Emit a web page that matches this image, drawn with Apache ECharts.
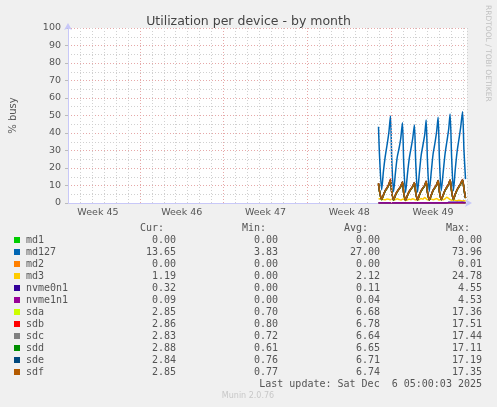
<!DOCTYPE html>
<html><head><meta charset="utf-8">
<script src="https://cdn.jsdelivr.net/npm/echarts@6/dist/echarts.min.js"></script>
<style>html,body{margin:0;padding:0;background:#f0f0f0;}#c{width:497px;height:407px;}</style>
</head><body><div id="c"></div>
<script>
// time in days since Mon Nov 3 2025 00:00 (left edge of plot)
const days = [
25.94, 26.02, 26.2, 26.35, 26.5, 26.65, 26.8, 26.94,
27.05, 27.2, 27.35, 27.5, 27.65, 27.8, 27.94,
28.05, 28.2, 28.35, 28.5, 28.65, 28.8, 28.94,
29.05, 29.2, 29.35, 29.5, 29.65, 29.8, 29.92,
30.03, 30.18, 30.35, 30.5, 30.65, 30.8, 30.92,
31.03, 31.18, 31.35, 31.5, 31.65, 31.8, 31.92,
32.05, 32.2, 32.35, 32.5, 32.65, 32.8, 32.96,
33.08, 33.21];
const md1 = [
0,0,0,0,0,0,0,0, 0,0,0,0,0,0,0, 0,0,0,0,0,0,0, 0,0,0,0,0,0,0,
0,0,0,0,0,0,0, 0,0,0,0,0,0,0, 0,0,0,0,0,0,0, 0,0];
const md127 = [
43.6, 28.0, 7.5, 18.0, 26.5, 33.0, 40.0, 49.7,
24.0, 6.5, 17.0, 26.0, 31.0, 37.0, 45.9,
22.0, 6.0, 16.0, 25.0, 31.0, 37.0, 44.6,
23.0, 6.2, 17.0, 27.0, 33.0, 39.0, 47.4,
24.0, 6.5, 18.0, 28.0, 34.0, 41.0, 49.0,
25.0, 7.0, 18.0, 28.0, 35.0, 42.0, 50.9,
26.0, 7.0, 19.0, 29.0, 36.0, 43.0, 52.2,
30.0, 13.65];
const md2 = [
0,0,0,0,0,0,0,0, 0,0,0,0,0,0,0, 0,0,0,0,0,0,0, 0,0,0,0,0,0,0,
0,0,0,0,0,0,0, 0,0,0,0,0,0,0, 0,0,0,0,0,0,0, 0,0];
const md3 = [
2.6, 2.4, 2.2, 2.0, 1.8, 2.3, 2.1, 1.9,
2.2, 1.6, 1.9, 2.4, 2.0, 1.7, 2.1,
2.3, 1.5, 1.8, 2.2, 1.9, 2.5, 2.0,
1.7, 2.1, 1.9, 2.6, 2.2, 3.2, 2.4,
1.8, 2.0, 2.3, 1.9, 2.1, 2.6, 2.0,
1.7, 2.2, 1.8, 2.4, 3.3, 2.6, 2.0,
1.6, 1.9, 1.5, 1.3, 1.6, 1.4, 1.2,
1.3, 1.19];
const nvme0n1 = [
0.02,0.02,0.02,0.02,0.02,0.02,0.02,0.02,
0.02,0.02,0.02,0.02,0.02,0.02,0.02,
0.02,0.02,0.02,0.02,0.02,0.02,0.02,
0.02,0.02,0.02,0.02,0.02,0.02,0.02,
0.02,0.02,0.02,0.02,0.02,0.02,0.02,
0.02,0.02,0.02,0.02,0.02,0.4,0.45,
0.4,0.42,0.38,0.4,0.45,0.4,0.38,
0.35,0.32];
const nvme1n1 = [
0.04,0.04,0.04,0.04,0.04,0.04,0.04,0.04,
0.04,0.04,0.04,0.04,0.04,0.04,0.04,
0.04,0.04,0.04,0.04,0.04,0.04,0.04,
0.04,0.04,0.04,0.04,0.04,0.04,0.04,
0.04,0.04,0.04,0.04,0.04,0.04,0.04,
0.04,0.04,0.04,0.04,0.04,0.04,0.04,
0.04,0.04,0.04,0.04,0.04,0.04,0.04,
0.05,0.09];
const sda = [
11.0, 6.9, 1.9, 4.4, 6.9, 8.4, 10.4, 13.0,
5.9, 1.7, 4.4, 6.4, 7.9, 9.4, 11.9,
5.4, 1.5, 4.1, 6.4, 7.9, 9.4, 11.5,
5.9, 1.6, 4.4, 6.9, 8.4, 9.9, 12.3,
6.1, 1.7, 4.5, 7.1, 8.7, 10.4, 12.7,
6.4, 1.8, 4.6, 7.2, 8.9, 10.7, 13.0,
6.7, 1.9, 4.9, 7.4, 9.2, 10.9, 13.2,
7.9, 2.85];
const sdb = [
11.4, 7.1, 2.1, 4.6, 7.1, 8.7, 10.7, 13.7,
6.1, 1.9, 4.6, 6.6, 8.1, 9.6, 12.1,
5.6, 1.7, 4.3, 6.6, 8.1, 9.6, 11.7,
6.1, 1.8, 4.6, 7.1, 8.6, 10.1, 12.5,
6.3, 1.9, 4.7, 7.3, 8.9, 10.6, 12.9,
6.6, 2.0, 4.8, 7.4, 9.1, 10.9, 13.2,
6.9, 2.1, 5.1, 7.6, 9.4, 11.1, 13.4,
8.1, 2.86];
const sdc = [
11.1, 6.9, 2.0, 4.5, 6.9, 8.5, 10.5, 13.1,
5.9, 1.8, 4.4, 6.5, 8.0, 9.5, 11.9,
5.5, 1.6, 4.2, 6.4, 8.0, 9.4, 11.6,
5.9, 1.7, 4.5, 6.9, 8.5, 10.0, 12.3,
6.2, 1.8, 4.5, 7.2, 8.8, 10.5, 12.8,
6.4, 1.9, 4.7, 7.3, 9.0, 10.8, 13.0,
6.8, 2.0, 4.9, 7.5, 9.3, 11.0, 13.2,
7.9, 2.83];
const sdd = [
11.0, 6.8, 1.8, 4.4, 6.8, 8.4, 10.3, 12.9,
5.8, 1.6, 4.3, 6.4, 7.9, 9.3, 11.8,
5.4, 1.5, 4.1, 6.3, 7.8, 9.3, 11.4,
5.8, 1.6, 4.3, 6.8, 8.3, 9.8, 12.1,
6.0, 1.7, 4.4, 7.0, 8.6, 10.3, 12.6,
6.3, 1.8, 4.6, 7.1, 8.8, 10.6, 12.9,
6.6, 1.9, 4.8, 7.3, 9.1, 10.8, 13.1,
7.8, 2.88];
const sde = [
11.1, 7.0, 2.0, 4.5, 7.0, 8.5, 10.5, 13.1,
6.0, 1.8, 4.5, 6.5, 8.0, 9.5, 12.0,
5.5, 1.6, 4.2, 6.5, 8.0, 9.5, 11.6,
6.0, 1.7, 4.5, 7.0, 8.5, 10.0, 12.4,
6.2, 1.8, 4.6, 7.2, 8.8, 10.5, 12.8,
6.5, 1.9, 4.7, 7.3, 9.0, 10.8, 13.1,
6.8, 2.0, 5.0, 7.5, 9.3, 11.0, 13.3,
8.0, 2.84];
const sdf = [
11.2, 7.0, 2.0, 4.5, 7.0, 8.5, 10.5, 13.2,
6.0, 1.8, 4.5, 6.5, 8.0, 9.5, 12.0,
5.5, 1.6, 4.2, 6.5, 8.0, 9.5, 11.6,
6.0, 1.7, 4.5, 7.0, 8.5, 10.0, 12.4,
6.2, 1.8, 4.6, 7.2, 8.8, 10.5, 12.8,
6.5, 1.9, 4.7, 7.3, 9.0, 10.8, 13.1,
6.8, 2.0, 5.0, 7.5, 9.3, 11.0, 13.3,
8.0, 2.85];

const seriesNames = ['md1','md127','md2','md3','nvme0n1','nvme1n1','sda','sdb','sdc','sdd','sde','sdf'];
const seriesValues = [md1, md127, md2, md3, nvme0n1, nvme1n1, sda, sdb, sdc, sdd, sde, sdf];
const seriesColors = ['#00CC00','#0066B3','#FF8000','#FFCC00','#330099','#990099','#CCFF00','#FF0000','#808080','#008F00','#00487D','#B35A00'];

const curVals = ['0.00','13.65','0.00','1.19','0.32','0.09','2.85','2.86','2.83','2.88','2.84','2.85'];
const minVals = ['0.00','3.83','0.00','0.00','0.00','0.00','0.70','0.80','0.72','0.61','0.76','0.77'];
const avgVals = ['0.00','27.00','0.00','2.12','0.11','0.04','6.68','6.78','6.64','6.65','6.71','6.74'];
const maxVals = ['0.00','73.96','0.01','24.78','4.55','4.53','17.36','17.51','17.44','17.11','17.19','17.35'];

const weekCenters = [2.5, 9.5, 16.5, 23.5, 30.5];
const weekLabels = ['Week 45','Week 46','Week 47','Week 48','Week 49'];
const weekBounds = [6, 13, 20, 27];
const xMax = 33.333;
const yTicks = [0, 100, 10];

const titleText = 'Utilization per device - by month';
const yName = '% busy';
const sideText = 'RRDTOOL / TOBI OETIKER';
const lastUpdate = 'Last update: Sat Dec  6 05:00:03 2025';
const footer = 'Munin 2.0.76';
const headers = ['Cur:','Min:','Avg:','Max:'];

const MONO = '10px "DejaVu Sans Mono"';
const TXT = '#555';
const graphics = [];
const rowY0 = 240, rowH = 12;
const colRight = [176, 278, 380, 482];
headers.forEach((h, j) => graphics.push({type:'text', style:{text:h, x:colRight[j]-12, y:rowY0-rowH, align:'right', verticalAlign:'middle', font:MONO, fill:TXT}}));
seriesNames.forEach((n, i) => {
  const y = rowY0 + i*rowH;
  graphics.push({type:'rect', shape:{x:14, y:y-3, width:6, height:6}, style:{fill:seriesColors[i]}});
  graphics.push({type:'text', style:{text:n, x:26, y:y, align:'left', verticalAlign:'middle', font:MONO, fill:TXT}});
  [curVals, minVals, avgVals, maxVals].forEach((arr, j) => graphics.push({type:'text', style:{text:arr[i], x:colRight[j], y:y, align:'right', verticalAlign:'middle', font:MONO, fill:TXT}}));
});
graphics.push({type:'text', style:{text:lastUpdate, x:482, y:rowY0 + 12*rowH, align:'right', verticalAlign:'middle', font:MONO, fill:TXT}});
graphics.push({type:'text', style:{text:footer, x:248, y:396, align:'center', verticalAlign:'middle', font:'8px "DejaVu Sans"', fill:'#c8c8c8'}});
graphics.push({type:'text', x:488, y:5, rotation:-Math.PI/2, style:{text:sideText, x:0, y:0, align:'left', verticalAlign:'middle', font:'7.5px "DejaVu Sans"', fill:'#c0c0c0'}});

const dataSeries = seriesNames.map((n, i) => ({
  name:n, type:'line', xAxisIndex:0, yAxisIndex:0, showSymbol:false, symbol:'none',
  smooth:0.25,
  data: days.map((d, k) => [d, seriesValues[i][k]]),
  lineStyle:{color:seriesColors[i], width:1.5}, itemStyle:{color:seriesColors[i]},
  z:3, animation:false, silent:true
}));

const chart = echarts.init(document.getElementById('c'), null, {renderer:'canvas'});
chart.setOption({
  backgroundColor:'#f0f0f0',
  animation:false,
  title:{text:titleText, left:'center', top:10, textStyle:{fontFamily:'DejaVu Sans', fontSize:12.5, fontWeight:'normal', color:'#444'}},
  grid:{left:67, top:28, width:400, height:175, show:true, backgroundColor:'#ffffff', borderWidth:0},
  xAxis:[{
    type:'value', min:0, max:xMax, interval:1,
    axisLine:{show:true, lineStyle:{color:'#c8c8f8', width:1}, symbol:['none','arrow'], symbolSize:[6,7], symbolOffset:[0,5]},
    axisTick:{show:false},
    axisLabel:{show:true, customValues:weekCenters, formatter:(v)=>weekLabels[weekCenters.indexOf(v)] || '', fontFamily:'DejaVu Sans', fontSize:9.5, color:'#555', margin:5},
    splitLine:{show:true, lineStyle:{color:'#d0d0d0', type:[1,2], width:1}}
  }],
  yAxis:[{
    type:'value', min:yTicks[0], max:yTicks[1], interval:yTicks[2],
    name:yName, nameLocation:'middle', nameGap:50, nameRotate:90,
    nameTextStyle:{fontFamily:'DejaVu Sans', fontSize:10, color:'#555'},
    axisLine:{show:true, lineStyle:{color:'#c8c8f8', width:1}, symbol:['none','arrow'], symbolSize:[6,7], symbolOffset:[0,5]},
    axisTick:{show:true, length:3, lineStyle:{color:'#bbbbbb'}},
    axisLabel:{fontFamily:'DejaVu Sans', fontSize:9.5, color:'#555', margin:7},
    splitLine:{show:true, lineStyle:{color:'#e6a8a8', type:[1,2], width:1}},
    minorTick:{show:false, splitNumber:2},
    minorSplitLine:{show:true, lineStyle:{color:'#d0d0d0', type:[1,2], width:1}}
  }],
  series:[{
    type:'line', data:[], z:1, silent:true,
    markLine:{silent:true, symbol:'none', label:{show:false}, animation:false,
      lineStyle:{color:'#e6a8a8', type:[1,2], width:1},
      data: weekBounds.map(v => ({xAxis:v}))}
  }].concat(dataSeries),
  graphic: graphics
});
</script></body></html>
